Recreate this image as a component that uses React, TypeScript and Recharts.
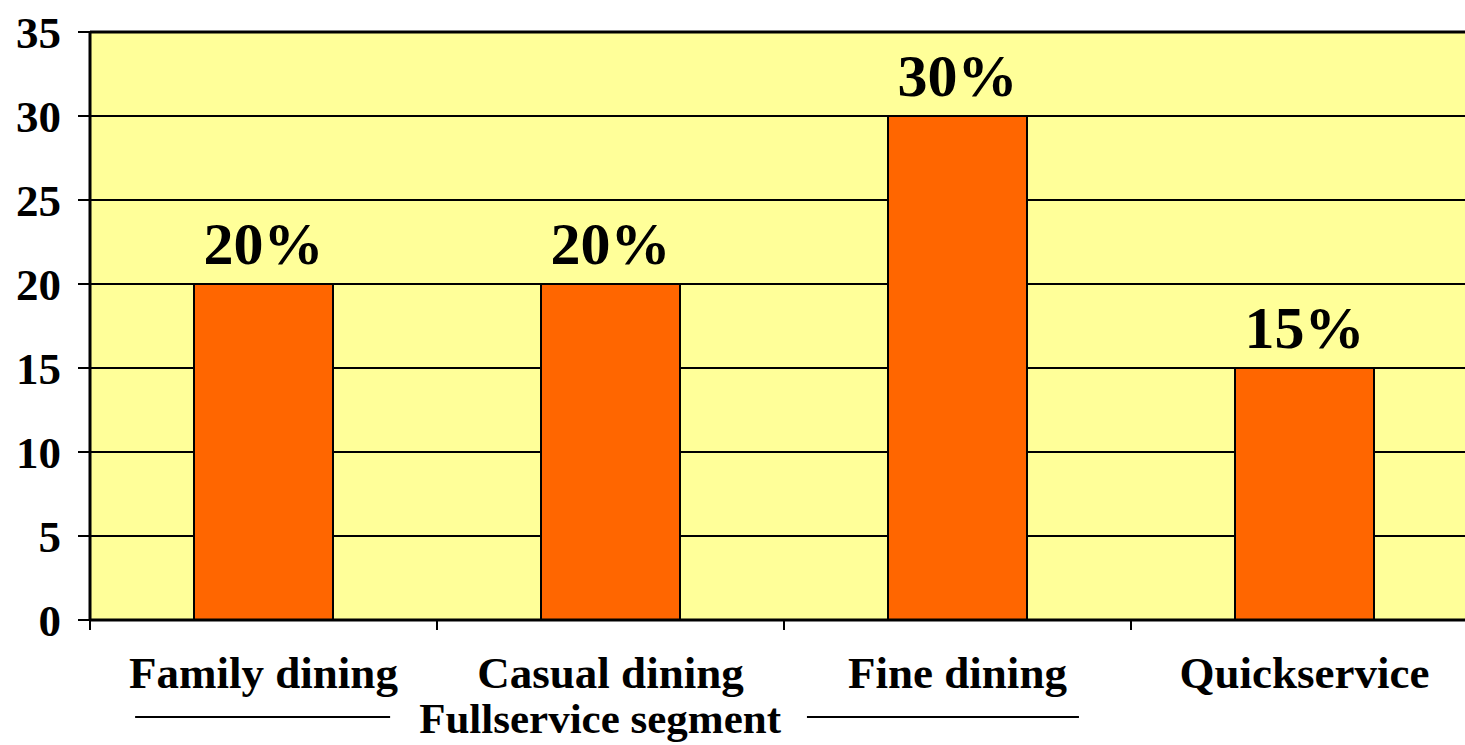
import React from 'react';
import {
  BarChart,
  Bar,
  XAxis,
  YAxis,
  CartesianGrid,
  LabelList,
  ReferenceLine,
} from 'recharts';

const segments = ['Family dining', 'Casual dining', 'Fine dining', 'Quickservice'];
const shares = [20, 20, 30, 15];
const yTicks = [0, 5, 10, 15, 20, 25, 30, 35];
const groupTitle = 'Fullservice segment';

const data = segments.map((name, i) => ({ name, share: shares[i] }));

const FONT = "'Liberation Serif', 'Times New Roman', serif";

interface TickProps {
  x?: number;
  y?: number;
  payload?: { value: string; offset?: number };
}

// category label plus a tick mark on the left boundary of each band
function SegmentTick({ x = 0, y = 0, payload }: TickProps) {
  const half = payload?.offset ?? 173.5;
  return (
    <g>
      <line x1={x - half} y1={y} x2={x - half} y2={y + 10} stroke="#000" strokeWidth={2} />
      <text
        x={x}
        y={y + 68}
        textAnchor="middle"
        fontFamily={FONT}
        fontWeight="bold"
        fontSize={45}
        fill="#000"
      >
        {payload?.value}
      </text>
    </g>
  );
}

interface AxisLabelProps {
  viewBox?: { x: number; y: number; width: number; height: number };
}

// bracket-style caption grouping the three full-service categories
function GroupCaption({ viewBox }: AxisLabelProps) {
  if (!viewBox) return null;
  const band = viewBox.width / segments.length;
  const left = viewBox.x + band * 0.13;
  const right = viewBox.x + band * 2.85;
  const mid = viewBox.x + band * 1.47;
  const ly = viewBox.y + 97;
  return (
    <g>
      <line x1={left} y1={ly} x2={left + 255} y2={ly} stroke="#000" strokeWidth={2} />
      <line x1={right - 272} y1={ly} x2={right} y2={ly} stroke="#000" strokeWidth={2} />
      <text
        x={mid}
        y={viewBox.y + 113}
        textAnchor="middle"
        fontFamily={FONT}
        fontWeight="bold"
        fontSize={43}
        fill="#000"
      >
        {groupTitle}
      </text>
    </g>
  );
}

export default function App() {
  return (
    <div
      style={{
        position: 'fixed',
        top: 0,
        left: 0,
        width: 1465,
        height: 745,
        overflow: 'hidden',
        background: '#fff',
      }}
    >
      <BarChart
        width={1490}
        height={745}
        data={data}
        margin={{ top: 32, right: 12, left: 0, bottom: 0 }}
      >
        <CartesianGrid
          vertical={false}
          fill="#FFFF99"
          fillOpacity={1}
          stroke="#000"
          strokeWidth={2}
        />
        <ReferenceLine y={35} stroke="#000" strokeWidth={3} />
        <XAxis
          dataKey="name"
          height={125}
          axisLine={{ stroke: '#000', strokeWidth: 3 }}
          tickLine={false}
          tickSize={0}
          tickMargin={0}
          interval={0}
          tick={<SegmentTick />}
          label={{ content: <GroupCaption /> }}
        />
        <YAxis
          width={90}
          domain={[0, 35]}
          ticks={yTicks}
          interval={0}
          axisLine={{ stroke: '#000', strokeWidth: 3 }}
          tickLine={{ stroke: '#000', strokeWidth: 2 }}
          tickSize={12}
          tickMargin={17}
          tick={{
            fill: '#000',
            fontSize: 45,
            fontWeight: 'bold',
            fontFamily: FONT,
          }}
        />
        <Bar
          dataKey="share"
          fill="#FF6600"
          stroke="#000"
          strokeWidth={2}
          barSize={139}
          isAnimationActive={false}
        >
          <LabelList
            dataKey="share"
            position="top"
            offset={20}
            formatter={(v: number) => `${v}%`}
            fill="#000"
            fontSize={60}
            fontWeight="bold"
            fontFamily={FONT}
          />
        </Bar>
      </BarChart>
    </div>
  );
}
